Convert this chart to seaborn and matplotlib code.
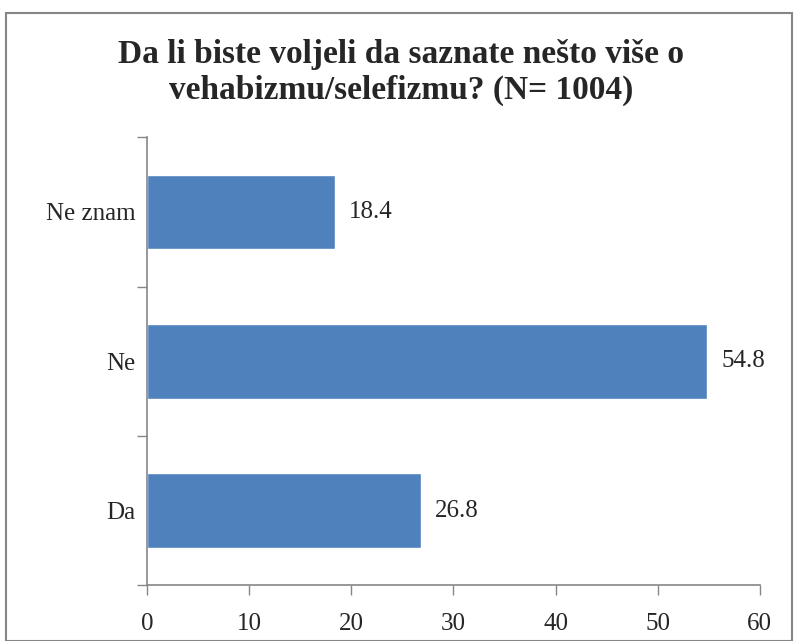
import numpy as np
import seaborn as sns
import matplotlib.pyplot as plt
import pandas as pd
from matplotlib.patches import Rectangle

categories = ['Ne znam', 'Ne', 'Da']
percentages = [18.4, 54.8, 26.8]
x_ticks = [0, 10, 20, 30, 40, 50, 60]
title = 'Da li biste voljeli da saznate nešto više o\nvehabizmu/selefizmu? (N= 1004)'

sns.set_theme(style='white')
plt.rcParams['font.family'] = ['Liberation Serif', 'DejaVu Serif']

df = pd.DataFrame({'odgovor': categories, 'postotak': percentages})

fig = plt.figure(figsize=(7.94, 6.41), dpi=100)
ax = fig.add_axes([0.185, 0.087, 0.772, 0.699])

sns.barplot(data=df, y='odgovor', x='postotak', orient='h', color='#4F81BD',
            width=0.5, saturation=1, ax=ax)

for i, v in enumerate(percentages):
    ax.text(v + 1.4, i, f'{v:.1f}', va='center', ha='left', fontsize=18)

ax.set_xlim(0, 60)
ax.set_ylim(2.5, -0.5)
ax.set_xticks(x_ticks)
ax.set_xticklabels([str(t) for t in x_ticks], fontsize=18)
ax.set_yticks([0, 1, 2])
ax.set_yticklabels(categories, fontsize=18)
ax.set_yticks([-0.5, 0.5, 1.5, 2.5], minor=True)
ax.tick_params(axis='y', which='major', length=0, pad=8)
ax.tick_params(axis='y', which='minor', length=7, color='#868686', width=1, left=True)
ax.tick_params(axis='x', length=7, color='#868686', width=1, bottom=True, pad=13)
ax.set_xlabel('')
ax.set_ylabel('')

for side in ['top', 'right']:
    ax.spines[side].set_visible(False)
for side in ['left', 'bottom']:
    ax.spines[side].set_color('#868686')
    ax.spines[side].set_linewidth(1.2)

fig.text(0.505, 0.887, title, ha='center', va='center', fontsize=24,
         fontweight='bold', linespacing=1.2)

fig.patches.append(Rectangle((0.007, 0.0), 0.99, 0.98, transform=fig.transFigure,
                             fill=False, edgecolor='#868686', linewidth=1.5))

fig.savefig('out.png', dpi=100)
